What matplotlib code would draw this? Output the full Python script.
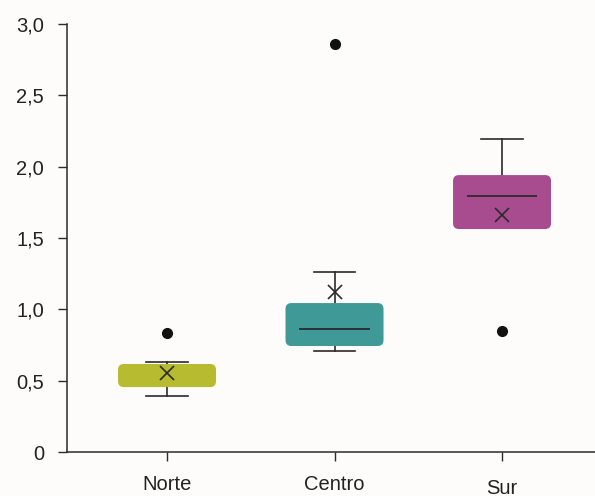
import matplotlib
matplotlib.use("Agg")
import matplotlib.pyplot as plt
from matplotlib.patches import FancyBboxPatch
from matplotlib.transforms import ScaledTranslation

categories = ["Norte", "Centro", "Sur"]
q1 = [0.455, 0.743, 1.563]
q3 = [0.617, 1.044, 1.941]
medians = [0.54, 0.862, 1.794]
whis_low = [0.392, 0.708, 1.563]
whis_high = [0.631, 1.261, 2.193]
means = [0.553, 1.121, 1.661]
outliers = [[0.834], [2.857], [0.848]]
colors = ["#B6BB30", "#3F9996", "#A84C8F"]
show_median = [False, True, True]
show_low_cap = [True, True, False]
yticks = [0, 0.5, 1.0, 1.5, 2.0, 2.5, 3.0]
yticklabels = ["0", "0,5", "1,0", "1,5", "2,0", "2,5", "3,0"]

plt.rcParams['font.family'] = ['Liberation Sans', 'DejaVu Sans']
fig = plt.figure(figsize=(5.95, 4.96), dpi=100)
fig.patch.set_facecolor("#FDFCFA")
ax = fig.add_axes([0.1126, 0.0887, 0.8874, 0.8629])
ax.set_facecolor("#FDFCFA")

positions = [1, 2, 3]
stats = []
for i, c in enumerate(categories):
    stats.append(dict(label=c, q1=q1[i], q3=q3[i], med=medians[i],
                      whislo=whis_low[i], whishi=whis_high[i],
                      mean=means[i], fliers=outliers[i]))

lc = "#2B2B2B"
bp = ax.bxp(stats, positions=positions, widths=0.585, showmeans=False,
            showfliers=True, manage_ticks=False,
            boxprops=dict(linewidth=0, color="none"),
            medianprops=dict(linewidth=0, color="none"),
            whiskerprops=dict(color=lc, linewidth=1.2, zorder=1),
            capprops=dict(color=lc, linewidth=1.2, zorder=1),
            capwidths=0.25,
            flierprops=dict(marker='o', markerfacecolor='#111111',
                            markeredgecolor='#111111', markersize=7, zorder=5))
for i in range(3):
    if not show_low_cap[i]:
        bp['caps'][2 * i].set_visible(False)

bw = 0.585
rx = 0.035
for i, p in enumerate(positions):
    patch = FancyBboxPatch((p - bw / 2, q1[i]), bw, q3[i] - q1[i],
                           boxstyle=f"round,pad=0,rounding_size={rx}",
                           mutation_aspect=1.17,
                           facecolor=colors[i], edgecolor="none", zorder=2)
    ax.add_patch(patch)
    if show_median[i]:
        ax.hlines(medians[i], p - 0.21, p + 0.21, color=lc, linewidth=1.3, zorder=3)
    ax.plot(p, means[i], marker='x', markersize=10, markeredgewidth=1.2,
            color=lc, linestyle='none', zorder=4)

ax.set_xlim(0.403, 3.555)
ax.set_ylim(0, 3.0)
ax.set_yticks(yticks)
ax.set_yticklabels(yticklabels, fontsize=14.5, color="#222222")
ax.set_xticks(positions)
ax.set_xticklabels(categories, fontsize=14.5, color="#222222")
ax.tick_params(axis='y', direction='out', length=6.5, width=1, color=lc, pad=10)
ax.tick_params(axis='x', direction='out', length=6.5, width=1, color=lc, pad=10)
for s in ["top", "right"]:
    ax.spines[s].set_visible(False)
for s in ["left", "bottom"]:
    ax.spines[s].set_color(lc)
    ax.spines[s].set_linewidth(1.1)

lbl = ax.get_xticklabels()[2]
lbl.set_transform(lbl.get_transform() + ScaledTranslation(0, -3 / 72, fig.dpi_scale_trans))

fig.savefig("out.png", dpi=100, facecolor=fig.get_facecolor())
